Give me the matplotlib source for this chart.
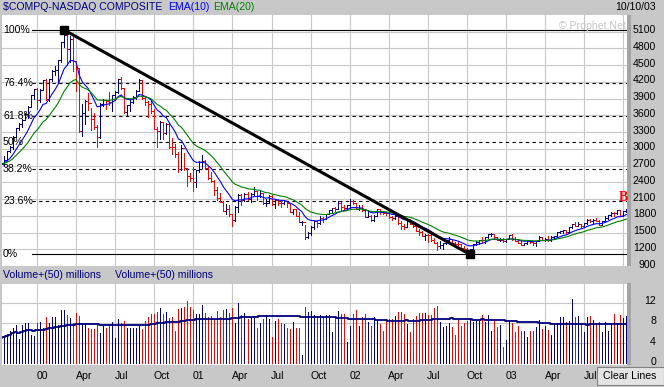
import matplotlib
matplotlib.use('Agg')
import matplotlib.pyplot as plt
import matplotlib.transforms as mtransforms
from matplotlib.collections import LineCollection
from matplotlib.patches import Rectangle
import numpy as np
import pandas as pd

plt.rcParams['font.family'] = ['Liberation Sans', 'DejaVu Sans']

# weekly bars, Fridays 10/15/99 .. 10/10/03
dates = pd.date_range('1999-10-15', '2003-10-10', freq='W-FRI')

high_99 = [2920, 2880, 2970, 3060, 3225, 3375, 3460, 3530, 3640, 3760, 3970, 4070]
low_99 = [2720, 2700, 2790, 2950, 3000, 3210, 3330, 3390, 3520, 3560, 3760, 3890]
close_99 = [2731, 2801, 2966, 3029, 3221, 3369, 3448, 3521, 3620, 3753, 3969, 4069]

high_00 = [4090, 4070, 4240, 4250, 4250, 4420, 4490, 4600, 4920, 5132, 5040, 5030, 5000,
           4500, 4440, 3810, 3880, 4000, 3730, 3650, 3430, 3830, 3900, 3880, 4020, 3970,
           4030, 4250, 4290, 4100, 3790, 3870, 3950, 4050, 4260, 4240, 3930, 3860, 3860,
           3720, 3390, 3500, 3480, 3470, 3470, 3190, 3090, 2940, 3070, 2930, 2650, 2560]
low_00 = [3710, 3840, 4060, 3880, 3860, 4220, 4320, 4180, 4560, 4830, 4500, 4560, 4400,
          4030, 3300, 3230, 3440, 3690, 3340, 3350, 3040, 3200, 3760, 3720, 3780, 3680,
          3870, 4000, 4080, 3650, 3600, 3680, 3830, 3900, 4050, 3900, 3790, 3580, 3650,
          3350, 3040, 3170, 3180, 3270, 3020, 2900, 2860, 2580, 2630, 2620, 2330, 2420]
close_00 = [3882, 4064, 4235, 3887, 4244, 4395, 4411, 4590, 4914, 5048, 4798, 4963, 4573,
            4446, 3321, 3643, 3860, 3817, 3529, 3390, 3205, 3813, 3874, 3860, 3845, 3966,
            4024, 4246, 4095, 3663, 3787, 3849, 3930, 4043, 4234, 3914, 3835, 3802, 3673,
            3361, 3317, 3483, 3279, 3451, 3028, 3027, 2904, 2645, 3015, 2653, 2517, 2471]

high_01 = [2680, 2630, 2790, 2890, 2800, 2670, 2580, 2440, 2320, 2200, 2070, 2020, 2000,
           1840, 1970, 2190, 2190, 2200, 2230, 2210, 2320, 2250, 2240, 2200, 2110, 2180,
           2170, 2100, 2090, 2060, 2090, 2070, 2020, 1920, 1920, 1860, 1700, 1640, 1510,
           1610, 1710, 1720, 1800, 1780, 1830, 1910, 1945, 1960, 2060, 2050, 1990, 2000]
low_01 = [2250, 2320, 2580, 2650, 2640, 2460, 2400, 2180, 2080, 2040, 1880, 1830, 1790,
          1620, 1700, 1870, 2000, 2060, 2080, 2050, 2180, 2080, 2130, 2020, 1970, 2030,
          2000, 1940, 1990, 1960, 2010, 1960, 1860, 1840, 1790, 1680, 1630, 1390, 1400,
          1460, 1560, 1600, 1660, 1680, 1740, 1830, 1850, 1880, 1930, 1910, 1910, 1940]
close_01 = [2407, 2626, 2770, 2781, 2661, 2470, 2425, 2262, 2117, 2052, 1890, 1928, 1840,
            1720, 1961, 2164, 2075, 2191, 2107, 2198, 2251, 2149, 2215, 2028, 2034, 2161,
            2004, 2084, 2029, 2028, 2066, 2022, 1867, 1916, 1805, 1687, 1695, 1423, 1499,
            1605, 1703, 1671, 1768, 1746, 1828, 1898, 1941, 1930, 2021, 1953, 1945, 1987]

high_02 = [2100, 2090, 2020, 1990, 1990, 1920, 1880, 1810, 1810, 1930, 1900, 1890, 1870,
           1850, 1790, 1820, 1800, 1700, 1660, 1750, 1730, 1670, 1630, 1560, 1520, 1480,
           1470, 1470, 1400, 1330, 1350, 1320, 1370, 1420, 1390, 1330, 1340, 1300, 1250,
           1220, 1210, 1300, 1340, 1360, 1420, 1420, 1470, 1490, 1480, 1420, 1400, 1400]
low_02 = [1940, 2010, 1920, 1900, 1880, 1770, 1770, 1700, 1700, 1800, 1840, 1840, 1810,
          1760, 1720, 1740, 1660, 1570, 1570, 1600, 1650, 1600, 1520, 1460, 1430, 1370,
          1330, 1340, 1310, 1190, 1230, 1200, 1300, 1350, 1310, 1260, 1260, 1220, 1180,
          1130, 1108, 1200, 1280, 1300, 1330, 1320, 1410, 1440, 1400, 1360, 1340, 1330]
close_02 = [2059, 2022, 1930, 1937, 1911, 1782, 1805, 1724, 1802, 1929, 1868, 1851, 1845,
            1770, 1756, 1796, 1663, 1613, 1600, 1741, 1661, 1615, 1535, 1505, 1440, 1463,
            1448, 1374, 1319, 1262, 1280, 1306, 1361, 1380, 1315, 1295, 1291, 1221, 1199,
            1139, 1210, 1287, 1331, 1360, 1359, 1411, 1468, 1479, 1422, 1362, 1363, 1348]

high_03 = [1390, 1450, 1470, 1420, 1370, 1360, 1320, 1360, 1360, 1340, 1350, 1430, 1420,
           1400, 1430, 1430, 1440, 1510, 1530, 1550, 1540, 1600, 1650, 1680, 1680, 1650,
           1670, 1740, 1750, 1740, 1760, 1720, 1710, 1790, 1810, 1870, 1860, 1910, 1910,
           1890, 1920]
low_03 = [1330, 1380, 1370, 1340, 1310, 1280, 1270, 1300, 1310, 1270, 1250, 1340, 1360,
          1340, 1350, 1350, 1400, 1420, 1490, 1490, 1480, 1510, 1590, 1620, 1620, 1600,
          1610, 1660, 1680, 1660, 1710, 1640, 1640, 1700, 1740, 1800, 1800, 1840, 1790,
          1790, 1870]
close_03 = [1387, 1448, 1376, 1342, 1320, 1283, 1310, 1349, 1337, 1305, 1340, 1421, 1370,
            1383, 1358, 1425, 1434, 1502, 1521, 1538, 1510, 1596, 1646, 1626, 1645, 1625,
            1663, 1733, 1708, 1731, 1714, 1644, 1702, 1765, 1810, 1858, 1848, 1905, 1792,
            1880, 1915]

# weekly volume (chart units, "millions")
vol_99 = [5.1, 5.3, 5.9, 6.4, 7.0, 7.6, 4.9, 7.6, 8.0, 8.0, 5.7, 5.5]
vol_00 = [8.0, 8.2, 7.0, 9.1, 8.0, 9.1, 9.2, 7.6, 10.6, 10.5, 9.6, 9.0, 8.0, 10.0, 9.4,
          8.0, 8.0, 7.0, 6.8, 6.7, 7.6, 6.0, 7.3, 7.0, 7.8, 8.2, 5.1, 8.7, 8.0, 8.4, 7.0,
          7.0, 7.0, 7.0, 7.6, 6.7, 8.4, 9.1, 9.8, 9.8, 10.1, 11.0, 9.8, 10.1, 9.0, 9.1,
          6.3, 10.8, 10.9, 11.2, 12.4, 11.2]
vol_01 = [10.6, 9.8, 9.8, 11.6, 10.0, 9.2, 9.4, 8.8, 10.4, 9.1, 10.6, 10.8, 10.0, 11.0,
          8.0, 12.0, 9.6, 10.0, 8.7, 9.2, 9.4, 7.0, 8.0, 8.7, 9.6, 8.7, 5.3, 8.4, 8.7, 8.0,
          7.8, 7.0, 6.8, 8.2, 7.0, 7.0, 1.7, 11.2, 10.2, 10.4, 9.6, 9.2, 9.6, 9.1, 9.6,
          9.6, 6.1, 9.1, 10.4, 9.8, 9.8, 4.3]
vol_02 = [7.4, 9.8, 10.6, 7.3, 9.1, 9.8, 8.2, 7.4, 9.1, 8.6, 7.8, 6.4, 8.4, 8.7, 8.7, 9.4,
          10.2, 10.1, 9.8, 7.8, 6.1, 8.8, 9.4, 10.0, 10.0, 10.0, 9.6, 9.6, 11.0, 11.4, 8.2,
          7.2, 7.4, 8.0, 7.2, 5.7, 8.6, 7.4, 8.0, 8.4, 8.8, 8.2, 8.4, 8.4, 9.6, 8.2, 9.6,
          6.4, 8.4, 7.2, 7.6, 3.3]
vol_03 = [4.7, 8.4, 8.0, 6.1, 7.4, 6.4, 6.4, 5.3, 6.4, 6.4, 7.2, 8.6, 6.8, 7.4, 6.6, 5.7,
          7.6, 8.0, 9.2, 9.2, 8.2, 8.4, 12.6, 9.2, 9.4, 8.0, 6.2, 9.2, 9.4, 8.6, 8.0, 8.2,
          6.1, 8.2, 6.4, 8.0, 9.8, 8.0, 9.6, 9.0, 9.4]

price_ticks = list(range(900, 5101, 300))
vol_ticks = [0, 4, 8, 12]
fib_ratios = [1.0, 0.764, 0.618, 0.5, 0.382, 0.236, 0.0]
fib_labels = ['100%', '76.4%', '61.8%', '50%', '38.2%', '23.6%', '0%']

high = np.array(high_99 + high_00 + high_01 + high_02 + high_03, float)
low = np.array(low_99 + low_00 + low_01 + low_02 + low_03, float)
close = np.array(close_99 + close_00 + close_01 + close_02 + close_03, float)
volume = np.array(vol_99 + vol_00 + vol_01 + vol_02 + vol_03, float)
n = len(dates)
idx = np.arange(n)

ema10 = pd.Series(close).ewm(span=10, adjust=False).mean()
ema20 = pd.Series(close).ewm(span=20, adjust=False).mean()
vol_ma = pd.Series(volume).rolling(50, min_periods=1).mean()
opens = np.r_[close[0], close[:-1]]

BG = '#c8c8c8'
GRID = '#c8c8c8'
NAVY = '#000080'
RED = '#ff0000'
FS = 7.6
LW = 0.6  # about one pixel

W, H = 664, 387
fig = plt.figure(figsize=(W / 100, H / 100), dpi=100)
fig.patch.set_facecolor(BG)


def panel(x0, y0, x1, y1):
    a = fig.add_axes([x0 / W, 1 - y1 / H, (x1 - x0) / W, (y1 - y0) / H])
    a.set_facecolor('white')
    for s in a.spines.values():
        s.set_visible(False)
    a.set_xticks([])
    a.set_yticks([])
    return a


def ftext(x, y, s, **kw):
    kw.setdefault('fontsize', FS)
    kw.setdefault('va', 'center')
    fig.text(x / W, 1 - y / H, s, **kw)


ax = panel(2, 15, 627, 266)
axv = panel(2, 284, 627, 365)
for a in (ax, axv):
    a.set_xlim(0.36, 208.2)
ax.set_ylim(900, 5400)
axv.set_ylim(-0.3, 15.65)

# quarter gridlines
quarters = [(i, d) for i, d in enumerate(dates) if d.month in (1, 4, 7, 10) and d.day <= 7]
for i, d in quarters:
    for a in (ax, axv):
        a.axvline(i, color=GRID, lw=0.8, zorder=0)
for v in price_ticks:
    ax.axhline(v, color=GRID, lw=0.8, zorder=0)
for v in vol_ticks[1:]:
    axv.axhline(v, color=GRID, lw=0.8, zorder=0)

# price bars
cols = np.where(close >= opens, NAVY, RED)
segs, scol = [], []
for i in range(n):
    segs += [[(i, low[i]), (i, high[i])],
             [(i - 0.45, opens[i]), (i, opens[i])],
             [(i, close[i]), (i + 0.45, close[i])]]
    scol += [cols[i]] * 3
ax.add_collection(LineCollection(segs, colors=scol, linewidths=LW, antialiaseds=False, zorder=3))
ax.plot(idx, ema10, color='#0000ff', lw=0.8, zorder=4)
ax.plot(idx, ema20, color='#008000', lw=0.8, zorder=4)

# fibonacci retracement + trendline
i_hi, i_lo = int(np.argmax(high)), int(np.argmin(low))
hi, lo = high[i_hi], low[i_lo]
ytr = mtransforms.blended_transform_factory(fig.transFigure, ax.transData)
for r, lab in zip(fib_ratios, fib_labels):
    lev = lo + r * (hi - lo)
    ls = '-' if r in (0.0, 1.0) else (0, (3, 3))
    ax.axhline(lev, xmin=0.048, xmax=1, color='black', lw=0.8, ls=ls, zorder=2)
    ax.text(3 / W, lev, lab, transform=ytr, fontsize=FS, va='center', ha='left', zorder=5)
ax.plot([i_hi, i_lo], [hi, lo], color='black', lw=2.2, zorder=5, solid_capstyle='butt')
ax.plot([i_hi, i_lo], [hi, lo], ls='none', marker='s', ms=5.8, color='black', zorder=6)

# volume
axv.vlines(idx, 0, volume, colors=cols, lw=LW, antialiased=False, zorder=3)
axv.plot(idx, vol_ma, color=NAVY, lw=1.3, drawstyle='steps-mid', zorder=4)

# right axis labels
lab_tr = mtransforms.offset_copy(ytr, fig=fig, y=1.5, units='dots')
for v in price_ticks:
    ax.text(656 / W, v, str(v), transform=lab_tr, fontsize=FS, ha='right', va='center', clip_on=False)
vtr = mtransforms.offset_copy(mtransforms.blended_transform_factory(fig.transFigure, axv.transData),
                              fig=fig, y=1.5, units='dots')
for v in vol_ticks:
    axv.text(656 / W, v, str(v), transform=vtr, fontsize=FS, ha='right', va='center', clip_on=False)

# darker strip at right edge of panels
fig.patches.append(Rectangle((627 / W, 1 - 266 / H), 4 / W, 251 / H, transform=fig.transFigure,
                             facecolor='#a4a4a4', edgecolor='none'))
fig.patches.append(Rectangle((627 / W, 1 - 365 / H), 4 / W, 82 / H, transform=fig.transFigure,
                             facecolor='#a4a4a4', edgecolor='none'))

# bottom month labels (the last quarter sits under the button)
xtr = mtransforms.blended_transform_factory(axv.transData, fig.transFigure)
for i, d in quarters:
    if axv.transData.transform((i, 0))[0] > 592:
        continue
    lab = d.strftime('%y') if d.month == 1 else d.strftime('%b')
    axv.text(i - 0.2, 1 - 376 / H, lab, transform=xtr, fontsize=FS, ha='left', va='center', clip_on=False)

# header texts
ftext(3, 7, '$COMPQ-NASDAQ COMPOSITE', color=NAVY)
ftext(168, 7, 'EMA(10)', color='#0000ff')
ftext(213, 7, 'EMA(20)', color='#008000')
ftext(656, 7, '10/10/03', color='black', ha='right')
ftext(626, 26, '\u00a9 Prophet.Net', color='#c4c4c4', ha='right')
ftext(3, 275, 'Volume+(50) millions', color=NAVY)
ftext(115, 275, 'Volume+(50) millions', color=NAVY)
ftext(623, 197, 'B', color=RED, ha='center', fontsize=10, fontweight='bold',
      family=['Liberation Serif', 'DejaVu Serif'])

# "Clear Lines" button
fig.patches.append(Rectangle((597 / W, 1 - 385 / H), 67 / W, 18 / H, transform=fig.transFigure,
                             facecolor='#e4e4e4', edgecolor='#808080', lw=0.8))
ftext(630, 376, 'Clear Lines', color='black', ha='center')

fig.savefig('out.png', dpi=100, facecolor=fig.get_facecolor())
